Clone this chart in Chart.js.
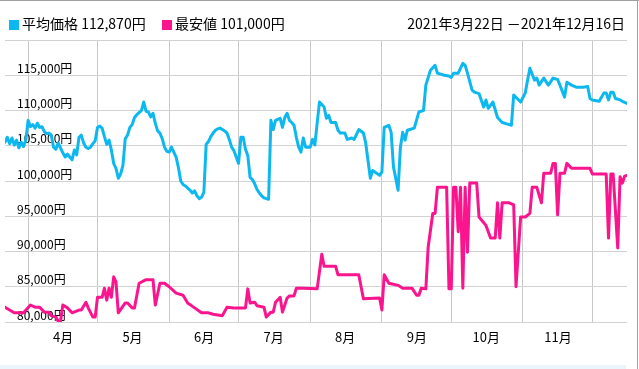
<!DOCTYPE html>
<html><head><meta charset="utf-8">
<script src="https://cdn.jsdelivr.net/npm/chart.js@4/dist/chart.umd.min.js"></script>
<style>
html,body{margin:0;padding:0;background:#fff;}
#wrap{position:relative;width:639px;height:369px;overflow:hidden;font-family:"Noto Sans CJK JP","Noto Sans",sans-serif;color:#000;}
#frameTop{position:absolute;left:0;top:0;width:639px;height:1px;background:#a0a0a0;}
#frameRight{position:absolute;left:637px;top:0;width:1px;height:369px;background:#a0a0a0;}
#strip{position:absolute;left:0;top:365px;width:626px;height:4px;background:#eaf6fc;}
canvas{position:absolute;left:0;top:0;}
.hdr{position:absolute;top:14px;font-size:14px;line-height:18px;white-space:nowrap;}
.sq{display:inline-block;width:10px;height:10px;margin-right:3px;vertical-align:-1px;}
</style>
</head><body>
<div id="wrap">
  <canvas id="c" width="639" height="369"></canvas>
  <div id="frameTop"></div><div id="frameRight"></div><div id="strip"></div>
  <div class="hdr" style="left:9px;"><span class="sq" style="background:#0db8f0"></span>平均価格 112,870円</div>
  <div class="hdr" style="left:162px;"><span class="sq" style="background:#fa158e"></span>最安値 101,000円</div>
  <div class="hdr" style="right:14px;">2021年3月22日 －2021年12月16日</div>
</div>
<script>
// Day offsets from 2021-03-22 (day 0) to 2021-12-16 (day 269)
const monthStarts = [10, 40, 71, 101, 132, 163, 193, 224, 254];
const monthLabels = ['4月', '5月', '6月', '7月', '8月', '9月', '10月', '11月', ''];
const yTicks = [80000, 85000, 90000, 95000, 100000, 105000, 110000, 115000, 120000];

const avgDays = [0,1,2,3,4,5,6,7,8,9,10,11,12,13,14,15,16,17,18,19,20,21,22,23,24,25,26,27,28,29,30,31,32,33,34,35,36,37,38,39,40,41,42,43,44,45,46,47,48,49,50,51,52,53,54,55,56,57,58,59,60,61,62,63,64,65,66,67,68,69,70,71,72,73,74,75,76,77,78,79,80,81,82,83,84,85,86,87,88,89,90,91,92,93,94,95,96,97,98,99,100,101,102,103,104,105,106,107,108,109,110,111,112,113,114,115,116,117,119,120,121,122,123,124,125,126,127,128,129,130,132,133,134,135,136,138,139,140,141,143,144,145,147,148,150,151,153,155,156,158,159,162,163,164,166,167,168,170,171,172,173,174,177,179,181,182,184,186,187,190,192,193,194,196,198,199,200,202,203,205,207,208,209,211,213,215,217,219,220,223,225,226,227,229,230,231,233,235,237,239,240,242,243,245,247,250,252,253,254,257,259,260,261,262,263,264,266,267,269];
const avgPrices = [105500,106200,105300,106100,105100,105800,104700,105500,104900,105800,108600,107700,108000,107500,108200,107600,107700,107000,106700,106800,106500,104800,104500,105400,104700,104000,103400,103800,103400,103000,104400,103700,106200,106500,105400,104800,104600,104800,105300,105700,107600,107800,107500,106300,105200,105800,104400,102500,101800,100400,101000,102200,106000,106500,107600,108000,109000,109400,109700,110000,111200,109900,109800,109100,109600,108200,107100,106800,106000,104800,104200,104100,104800,104100,103400,101900,100000,99500,99300,99000,98700,98300,98600,97900,97500,97700,98400,105200,105600,106300,106800,107200,107400,107500,107300,107100,106800,105900,104800,104300,103400,102500,106200,106200,104500,103600,100500,100200,99600,98800,98300,97900,97600,97500,97400,108600,107300,108600,108900,107600,109000,109600,108600,108300,107900,106200,104800,104100,106100,104800,104800,105900,105100,108200,111200,110500,108900,109300,108300,108300,107200,106800,106800,105900,106100,105900,107300,106800,105400,100400,101500,100800,101300,107600,107900,106900,102000,98700,104800,106900,105800,107200,107500,109800,110000,113600,115700,116400,115300,115000,114900,114700,115300,115300,116700,116400,115300,112900,112600,112400,110500,111500,110300,111200,109000,108300,108100,107900,112200,111200,112500,114300,116000,114300,114600,113600,114600,113600,114600,114400,113600,111900,114000,113600,113300,113300,113400,111700,111500,111300,112500,112500,111500,112600,112600,111700,111500,111300,111000];

const minDays = [0,4,8,11,13,15,17,19,20,22,23,24,25,27,29,32,33,35,36,38,39,40,42,43,44,45,46,47,48,49,52,53,55,56,58,61,64,65,67,69,71,74,77,79,82,85,88,90,94,96,99,104,105,106,108,109,112,113,115,116,117,119,120,122,123,125,126,129,135,137,138,143,144,153,155,162,163,164,166,170,172,176,178,179,180,182,183,185,186,187,191,192,193,194,195,196,197,198,199,200,201,204,205,208,210,212,213,214,215,218,220,221,223,225,227,228,230,232,233,236,237,238,239,240,242,243,245,253,254,260,261,262,263,265,266,267,268,269];
const minPrices = [82100,81300,81300,82400,82100,82100,81400,81400,80900,80700,80100,80100,82400,82000,81300,81700,81700,82800,82000,80700,80700,83500,83500,84800,83100,84800,83500,86400,85700,81300,82700,82700,82000,82000,85500,86000,86000,82400,85500,85500,85000,84100,83800,82700,82000,81300,81300,81100,80900,82100,82000,82000,84700,82700,82800,82300,82100,80700,81400,81400,82800,83500,81400,83400,83700,83700,84800,84800,84700,89600,87900,87900,86700,86700,83300,83400,81700,86700,85500,85200,84800,84800,83800,83800,84800,84700,90600,95400,95400,99100,99100,84700,84700,99100,99100,92800,99100,84800,99100,89900,99700,99700,94900,93700,91900,91900,96900,91900,96900,96900,96600,85000,94900,94900,95400,99100,99100,96900,101100,101100,102500,102500,95200,101100,101100,102500,101800,101800,101000,101000,91900,101000,101000,90500,100600,99700,100700,100800];

const FONT = '"Noto Sans CJK JP", "Noto Sans", sans-serif';
const BLUE = '#0db8f0';
const PINK = '#fa158e';

new Chart(document.getElementById('c'), {
  type: 'line',
  data: {
    datasets: [
      { label: '平均価格', data: avgDays.map((d, i) => ({ x: d, y: avgPrices[i] })),
        borderColor: BLUE, borderWidth: 3, pointRadius: 0, tension: 0, borderJoinStyle: 'round', borderCapStyle: 'round' },
      { label: '最安値', data: minDays.map((d, i) => ({ x: d, y: minPrices[i] })),
        borderColor: PINK, borderWidth: 3, pointRadius: 0, tension: 0, borderJoinStyle: 'round', borderCapStyle: 'round' }
    ]
  },
  options: {
    responsive: false, animation: false, devicePixelRatio: 1,
    layout: { padding: { left: 5, right: 12, top: 40, bottom: 0 } },
    plugins: { legend: { display: false }, tooltip: { enabled: false } },
    scales: {
      x: {
        type: 'linear', min: 0, max: 269, position: 'bottom',
        afterBuildTicks: s => { s.ticks = monthStarts.map(v => ({ value: v })); },
        afterFit: s => { s.height = 47; },
        grid: { color: '#c8c8c8', drawTicks: false },
        border: { display: false },
        ticks: { autoSkip: false, maxRotation: 0, minRotation: 0, labelOffset: 35, padding: 7,
          font: { size: 13, family: FONT }, color: '#000',
          callback: (v, i) => monthLabels[i] }
      },
      y: {
        type: 'linear', min: 80000, max: 120000, position: 'left',
        afterBuildTicks: s => { s.ticks = yTicks.map(v => ({ value: v })); },
        afterFit: s => { s.width = 0; },
        grid: { color: '#d2d2d2', drawTicks: false },
        border: { display: false },
        ticks: { display: false }
      },
      yl: {
        type: 'linear', min: 80000, max: 120000, position: 'left', z: 1,
        afterBuildTicks: s => { s.ticks = yTicks.map(v => ({ value: v })); },
        afterFit: s => { s.width = 0; },
        grid: { display: false, drawTicks: false },
        border: { display: false },
        ticks: { mirror: true, padding: 12, labelOffset: -7, font: { size: 12, family: FONT }, color: '#000',
          callback: v => v >= 120000 ? '' : v.toLocaleString('en-US') + '円' }
      }
    }
  }
});
</script>
</body></html>
